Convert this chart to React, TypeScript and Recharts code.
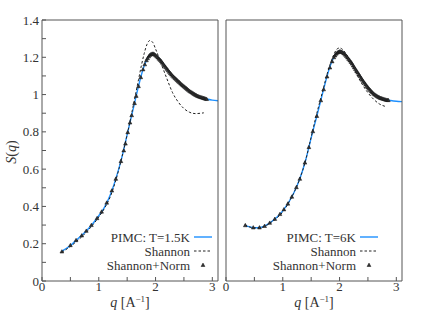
import { ComposedChart, Line, Scatter, XAxis, YAxis } from 'recharts';

// axis ticks
const qTicks = [0, 0.5, 1, 1.5, 2, 2.5, 3];
const sTicks = [0, 0.1, 0.2, 0.3, 0.4, 0.5, 0.6, 0.7, 0.8, 0.9, 1, 1.1, 1.2, 1.3, 1.4];

// T = 1.5K panel
const pimcQ15 = [0.35, 0.5, 0.6, 0.7, 0.8, 0.9, 1.0, 1.1, 1.2, 1.3, 1.4, 1.5, 1.6, 1.7, 1.75, 1.8, 1.85, 1.9, 1.95, 2.0, 2.1, 2.2, 2.3, 2.4, 2.5, 2.6, 2.7, 2.8, 2.9, 3.0, 3.1];
const pimcS15 = [0.16, 0.19, 0.218, 0.245, 0.275, 0.31, 0.35, 0.395, 0.46, 0.548, 0.655, 0.785, 0.915, 1.045, 1.105, 1.155, 1.19, 1.213, 1.22, 1.212, 1.18, 1.137, 1.1, 1.07, 1.043, 1.018, 0.998, 0.985, 0.976, 0.97, 0.967];
const shanQ15 = [0.35, 0.5, 0.6, 0.7, 0.8, 0.9, 1.0, 1.1, 1.2, 1.3, 1.4, 1.5, 1.6, 1.7, 1.75, 1.8, 1.85, 1.9, 1.95, 2.0, 2.1, 2.2, 2.3, 2.4, 2.5, 2.6, 2.7, 2.8, 2.85];
const shanS15 = [0.155, 0.185, 0.21, 0.237, 0.268, 0.303, 0.343, 0.39, 0.45, 0.54, 0.655, 0.785, 0.93, 1.08, 1.155, 1.22, 1.27, 1.29, 1.28, 1.245, 1.165, 1.085, 1.01, 0.96, 0.925, 0.905, 0.898, 0.9, 0.902];
const normQ15 = [0.35, 0.5, 0.6, 0.7, 0.78, 0.87, 0.97, 1.05, 1.14, 1.23, 1.3, 1.39, 1.44, 1.47, 1.51, 1.55, 1.58, 1.63, 1.66, 1.7, 1.74, 1.78, 1.81, 1.84, 1.86,
  1.88, 1.9, 1.92, 1.94, 1.96, 1.98, 2.0, 2.02, 2.04, 2.06, 2.08, 2.1, 2.12, 2.14, 2.16, 2.18, 2.2, 2.22, 2.24, 2.26, 2.28, 2.3, 2.32, 2.34, 2.36, 2.38,
  2.4, 2.42, 2.44, 2.46, 2.48, 2.5, 2.52, 2.54, 2.56, 2.58, 2.6, 2.62, 2.64, 2.66, 2.68, 2.7, 2.72, 2.74, 2.76, 2.78, 2.8, 2.82, 2.84, 2.86, 2.88, 2.9];
const normS15 = [0.158, 0.192, 0.219, 0.244, 0.269, 0.3, 0.337, 0.372, 0.42, 0.485, 0.548, 0.643, 0.7, 0.737, 0.798, 0.85, 0.889, 0.954, 0.993, 1.045, 1.093, 1.135, 1.162, 1.184, 1.195,
  1.205, 1.212, 1.217, 1.219, 1.219, 1.216, 1.211, 1.205, 1.199, 1.192, 1.186, 1.179, 1.171, 1.162, 1.154, 1.146, 1.138, 1.13, 1.122, 1.115, 1.108, 1.101, 1.095, 1.089, 1.083, 1.077,
  1.071, 1.066, 1.06, 1.054, 1.049, 1.044, 1.039, 1.034, 1.029, 1.024, 1.019, 1.015, 1.011, 1.007, 1.003, 0.999, 0.996, 0.993, 0.99, 0.988, 0.986, 0.984, 0.982, 0.98, 0.978, 0.976];

// T = 6K panel
const pimcQ6 = [0.33, 0.4, 0.5, 0.6, 0.7, 0.8, 0.9, 1.0, 1.1, 1.2, 1.3, 1.4, 1.5, 1.6, 1.7, 1.8, 1.9, 1.95, 2.0, 2.05, 2.1, 2.2, 2.3, 2.4, 2.5, 2.6, 2.7, 2.8, 2.9, 3.0, 3.1];
const pimcS6 = [0.3, 0.292, 0.286, 0.287, 0.298, 0.318, 0.343, 0.376, 0.42, 0.476, 0.548, 0.645, 0.768, 0.885, 1.005, 1.12, 1.2, 1.222, 1.232, 1.228, 1.214, 1.175, 1.127, 1.08, 1.038, 1.005, 0.985, 0.974, 0.968, 0.964, 0.962];
const shanQ6 = [0.33, 0.5, 0.6, 0.7, 0.8, 0.9, 1.0, 1.1, 1.2, 1.3, 1.4, 1.5, 1.6, 1.7, 1.8, 1.9, 1.95, 2.0, 2.05, 2.1, 2.2, 2.3, 2.4, 2.5, 2.6, 2.7, 2.8];
const shanS6 = [0.3, 0.285, 0.286, 0.296, 0.316, 0.339, 0.37, 0.418, 0.476, 0.548, 0.645, 0.772, 0.9, 1.015, 1.13, 1.215, 1.243, 1.25, 1.243, 1.225, 1.17, 1.11, 1.055, 1.01, 0.975, 0.95, 0.937];
const normQ6 = [0.34, 0.48, 0.59, 0.68, 0.77, 0.86, 0.95, 1.02, 1.09, 1.16, 1.24, 1.3, 1.39, 1.46, 1.53, 1.6, 1.67, 1.72, 1.78, 1.83, 1.87,
  1.9, 1.92, 1.94, 1.96, 1.98, 2.0, 2.02, 2.04, 2.06, 2.08, 2.1, 2.12, 2.14, 2.16, 2.18, 2.2, 2.22, 2.24, 2.26, 2.28, 2.3, 2.32, 2.34, 2.36, 2.38,
  2.4, 2.42, 2.44, 2.46, 2.48, 2.5, 2.52, 2.54, 2.56, 2.58, 2.6, 2.62, 2.64, 2.66, 2.68, 2.7, 2.72, 2.74, 2.76, 2.78, 2.8, 2.82, 2.84, 2.86];
const normS6 = [0.299, 0.287, 0.287, 0.295, 0.312, 0.333, 0.359, 0.384, 0.415, 0.452, 0.503, 0.548, 0.635, 0.718, 0.803, 0.885, 0.969, 1.028, 1.097, 1.145, 1.178,
  1.2, 1.21, 1.219, 1.225, 1.229, 1.231, 1.231, 1.229, 1.225, 1.22, 1.214, 1.207, 1.199, 1.191, 1.183, 1.175, 1.166, 1.156, 1.146, 1.137, 1.127, 1.118, 1.108, 1.099, 1.089,
  1.08, 1.071, 1.063, 1.054, 1.046, 1.038, 1.031, 1.024, 1.017, 1.011, 1.005, 1.0, 0.996, 0.992, 0.988, 0.985, 0.982, 0.98, 0.978, 0.976, 0.974, 0.972, 0.971, 0.97];

const zip = (q: number[], s: number[]) => q.map((v, i) => ({ q: v, s: s[i] }));

const FONT = 'Liberation Serif';
const AXIS = '#555';
const BLUE = '#1e90ff';
const tickStyle = { fontSize: 13, fill: '#333', fontFamily: FONT };

const Triangle = (props: any) => {
  const { cx, cy } = props;
  if (cx == null || cy == null) return null;
  return (
    <polygon
      points={`${cx - 1.9},${cy + 1.5} ${cx + 1.9},${cy + 1.5} ${cx},${cy - 1.9}`}
      fill="#333"
      stroke="#111"
      strokeWidth={0.5}
    />
  );
};

const fmtQ = (v: number) => (Number.isInteger(v) ? String(v) : '');
const fmtS = (v: number) => (Math.round(v * 10) % 2 === 0 ? String(v) : '');

interface PanelProps {
  pimc: { q: number; s: number }[];
  shan: { q: number; s: number }[];
  norm: { q: number; s: number }[];
  width: number;
  margin: { top: number; right: number; bottom: number; left: number };
  yWidth: number;
  yLabels: boolean;
}

function Panel({ pimc, shan, norm, width, margin, yWidth, yLabels }: PanelProps) {
  return (
    <ComposedChart width={width} height={317} margin={margin}>
      <XAxis
        xAxisId="b"
        dataKey="q"
        type="number"
        domain={[0, 3.1]}
        allowDataOverflow
        ticks={qTicks}
        interval={0}
        tickFormatter={fmtQ}
        tick={tickStyle}
        tickSize={-4}
        tickMargin={5}
        height={36}
        stroke={AXIS}
      />
      <XAxis
        xAxisId="t"
        orientation="top"
        type="number"
        domain={[0, 3.1]}
        allowDataOverflow
        ticks={qTicks}
        interval={0}
        tick={false}
        tickSize={-4}
        height={1}
        stroke={AXIS}
      />
      <YAxis
        yAxisId="l"
        type="number"
        domain={[0, 1.4]}
        allowDataOverflow
        ticks={sTicks}
        interval={0}
        tickFormatter={yLabels ? fmtS : () => ''}
        tick={yLabels ? tickStyle : false}
        tickSize={-4}
        tickMargin={7}
        width={yWidth}
        stroke={AXIS}
      />
      <YAxis
        yAxisId="r"
        orientation="right"
        type="number"
        domain={[0, 1.4]}
        allowDataOverflow
        ticks={sTicks}
        interval={0}
        tick={false}
        tickSize={-4}
        width={1}
        stroke={AXIS}
      />
      <Line
        xAxisId="b"
        yAxisId="l"
        data={pimc}
        dataKey="s"
        type="monotone"
        stroke={BLUE}
        strokeWidth={1.4}
        dot={false}
        isAnimationActive={false}
      />
      <Line
        xAxisId="b"
        yAxisId="l"
        data={shan}
        dataKey="s"
        type="monotone"
        stroke="#222"
        strokeWidth={1}
        strokeDasharray="2.5 2"
        dot={false}
        isAnimationActive={false}
      />
      <Scatter
        xAxisId="b"
        yAxisId="l"
        data={norm}
        dataKey="s"
        shape={Triangle}
        isAnimationActive={false}
      />
    </ComposedChart>
  );
}

function LegendBlock({ right, label }: { right: number; label: string }) {
  const rows = [237, 251, 265];
  const ts = { fontSize: 13, fill: '#333', fontFamily: FONT };
  return (
    <g>
      <text x={right} y={rows[0]} dy="0.35em" textAnchor="end" style={ts}>{label}</text>
      <line x1={right + 4} x2={right + 22} y1={rows[0]} y2={rows[0]} stroke={BLUE} strokeWidth={1.4} />
      <text x={right} y={rows[1]} dy="0.35em" textAnchor="end" style={ts}>Shannon</text>
      <line x1={right + 4} x2={right + 22} y1={rows[1]} y2={rows[1]} stroke="#222" strokeDasharray="2.5 2" />
      <text x={right} y={rows[2]} dy="0.35em" textAnchor="end" style={ts}>Shannon+Norm</text>
      <Triangle cx={right + 13} cy={rows[2]} />
    </g>
  );
}

export default function App() {
  return (
    <div style={{ position: 'absolute', left: 0, top: 0, width: 424, height: 317, background: '#fff', fontFamily: FONT }}>
      <div style={{ position: 'absolute', left: 0, top: 0 }}>
        <Panel
          pimc={zip(pimcQ15, pimcS15)}
          shan={zip(shanQ15, shanS15)}
          norm={zip(normQ15, normS15)}
          width={222}
          margin={{ top: 19, right: 3, bottom: 0, left: 0 }}
          yWidth={42}
          yLabels
        />
      </div>
      <div style={{ position: 'absolute', left: 222, top: 0 }}>
        <Panel
          pimc={zip(pimcQ6, pimcS6)}
          shan={zip(shanQ6, shanS6)}
          norm={zip(normQ6, normS6)}
          width={202}
          margin={{ top: 19, right: 21, bottom: 0, left: 0 }}
          yWidth={4}
          yLabels={false}
        />
      </div>
      <svg width={424} height={317} style={{ position: 'absolute', left: 0, top: 0, pointerEvents: 'none' }}>
        <LegendBlock right={190} label="PIMC: T=1.5K" />
        <LegendBlock right={356} label="PIMC: T=6K" />
        <text
          transform="translate(16,152) rotate(-90)"
          textAnchor="middle"
          style={{ fontSize: 14, fill: '#333', fontFamily: FONT }}
        >
          <tspan fontStyle="italic">S</tspan>(<tspan fontStyle="italic">q</tspan>)
        </text>
        {[130, 314].map(cx => (
          <text key={cx} x={cx} y={307} textAnchor="middle" style={{ fontSize: 14, fill: '#333', fontFamily: FONT }}>
            <tspan fontStyle="italic">q</tspan> [A
            <tspan fontSize={9} dy={-5}>−1</tspan>
            <tspan dy={5}>]</tspan>
          </text>
        ))}
      </svg>
    </div>
  );
}
